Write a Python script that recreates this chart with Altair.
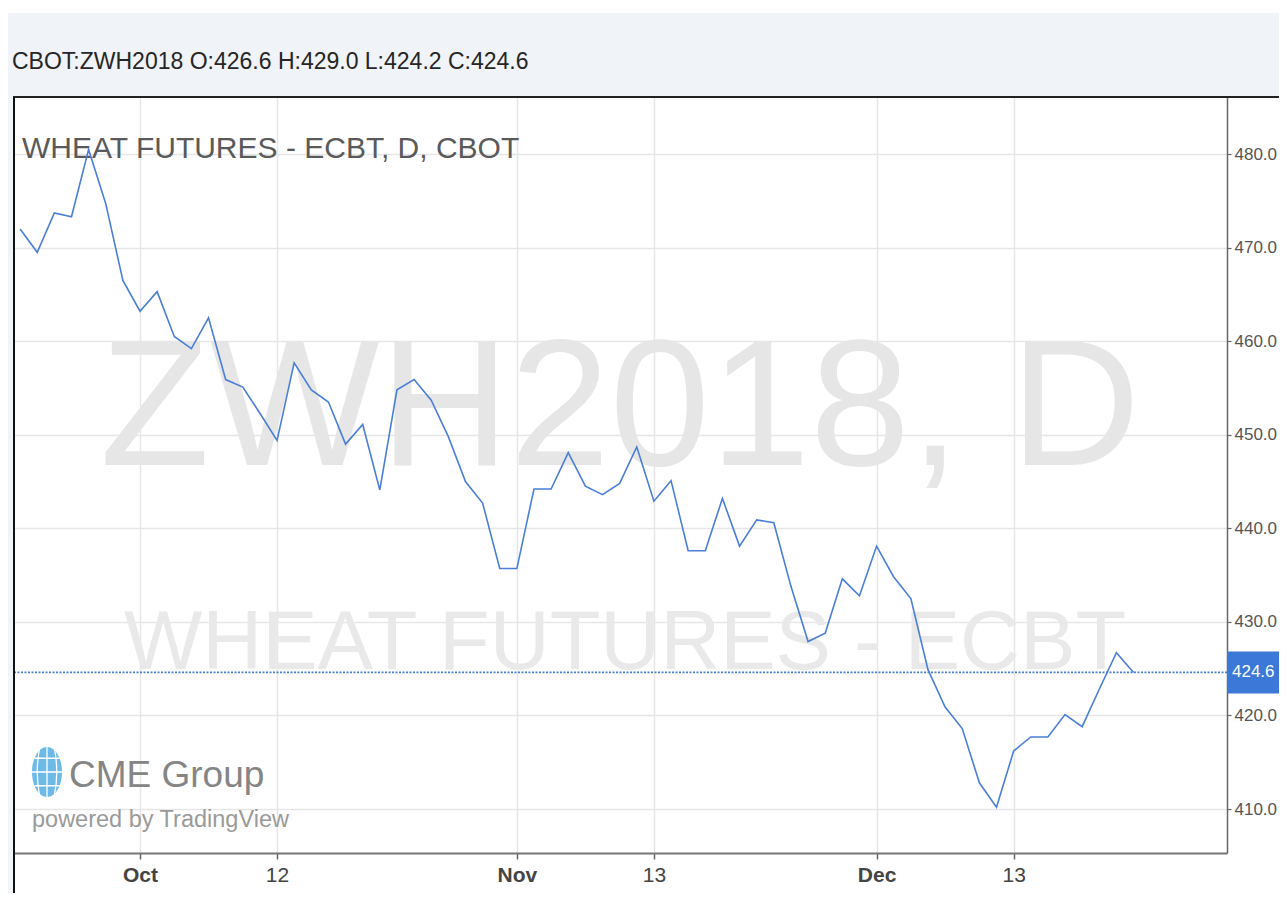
import altair as alt
import pandas as pd

# ---------------- data ----------------
dates = [
    "2017-09-21", "2017-09-22", "2017-09-25", "2017-09-26", "2017-09-27", "2017-09-28", "2017-09-29",
    "2017-10-02", "2017-10-03", "2017-10-04", "2017-10-05", "2017-10-06",
    "2017-10-09", "2017-10-10", "2017-10-11", "2017-10-12", "2017-10-13",
    "2017-10-16", "2017-10-17", "2017-10-18", "2017-10-19", "2017-10-20",
    "2017-10-23", "2017-10-24", "2017-10-25", "2017-10-26", "2017-10-27",
    "2017-10-30", "2017-10-31", "2017-11-01", "2017-11-02", "2017-11-03",
    "2017-11-06", "2017-11-07", "2017-11-08", "2017-11-09", "2017-11-10",
    "2017-11-13", "2017-11-14", "2017-11-15", "2017-11-16", "2017-11-17",
    "2017-11-20", "2017-11-21", "2017-11-22", "2017-11-24",
    "2017-11-27", "2017-11-28", "2017-11-29", "2017-11-30", "2017-12-01",
    "2017-12-04", "2017-12-05", "2017-12-06", "2017-12-07", "2017-12-08",
    "2017-12-11", "2017-12-12", "2017-12-13", "2017-12-14", "2017-12-15",
    "2017-12-18", "2017-12-19", "2017-12-20", "2017-12-21", "2017-12-22",
]
closes = [
    472.0, 469.5, 473.7, 473.3, 480.5, 474.7, 466.5,
    463.2, 465.3, 460.5, 459.2, 462.5,
    455.9, 455.1, 452.3, 449.4, 457.7,
    454.8, 453.5, 449.0, 451.1, 444.1,
    454.8, 455.9, 453.7, 449.8, 445.0,
    442.7, 435.7, 435.7, 444.2, 444.2,
    448.1, 444.5, 443.6, 444.8, 448.7,
    442.9, 445.1, 437.6, 437.6, 443.2,
    438.1, 440.9, 440.6, 433.8,
    427.9, 428.8, 434.6, 432.8, 438.1,
    434.8, 432.5, 424.9, 420.9, 418.6,
    412.8, 410.2, 416.2, 417.7, 417.7,
    420.1, 418.8, 422.8, 426.7, 424.6,
]
tick_dates = ["2017-10-02", "2017-10-12", "2017-11-01", "2017-11-13", "2017-12-01", "2017-12-13"]
tick_labels = ["Oct", "12", "Nov", "13", "Dec", "13"]
month_labels = ["Oct", "Nov", "Dec"]
y_ticks = [410, 420, 430, 440, 450, 460, 470, 480]
last_close = [424.6]

header_text = ["CBOT:ZWH2018 O:426.6 H:429.0 L:424.2 C:424.6"]
title_text = ["WHEAT FUTURES - ECBT, D, CBOT"]
watermark_symbol = ["ZWH2018, D"]
watermark_name = ["WHEAT FUTURES - ECBT"]
brand_text = ["CME Group"]
powered_text = ["powered by TradingView"]

# ---------------- layout / style ----------------
W, H = 1213, 756
PAD = {"left": 6, "top": 89, "right": 52, "bottom": 40}
FONT = "Liberation Sans, Arial, sans-serif"
BLUE = "#4a7fd9"

df = pd.DataFrame({"i": list(range(len(dates))), "date": dates, "close": closes})
tick_idx = [dates.index(d) for d in tick_dates]
label_expr = ""
for idx, lab in zip(tick_idx, tick_labels):
    label_expr += f"datum.value == {idx} ? '{lab}' : "
label_expr += "''"
bold_test = " || ".join(
    f"datum.value == {idx}" for idx, lab in zip(tick_idx, tick_labels) if lab in month_labels
)

x_enc = alt.X(
    "i:Q",
    scale=alt.Scale(domain=[-0.356, 70.456], nice=False, zero=False),
    axis=alt.Axis(
        values=tick_idx, labelExpr=label_expr, title=None,
        grid=True, gridColor="#e6e6e6", gridWidth=1.5,
        domainColor="#777777", domainWidth=2,
        tickColor="#666666", tickSize=6, tickWidth=1.5,
        labelFont=FONT, labelFontSize=21, labelColor="#444444", labelPadding=5,
        labelFontWeight=alt.condition(bold_test, alt.value("bold"), alt.value("normal")),
    ),
)
y_enc = alt.Y(
    "close:Q",
    scale=alt.Scale(domain=[405.3, 486.1], nice=False, zero=False),
    axis=alt.Axis(
        orient="right", values=y_ticks, format=".1f", title=None,
        grid=True, gridColor="#e6e6e6", gridWidth=1.5,
        domainColor="#666666", domainWidth=1.5,
        tickColor="#666666", tickSize=4, tickWidth=1.2,
        labelFont=FONT, labelFontSize=17, labelColor="#555555", labelPadding=3,
        labelOverlap=False,
    ),
)

one = pd.DataFrame({"k": [0]})

header_bg = alt.Chart(one).mark_rect(color="#f0f3f7").encode(
    x=alt.value(-6), x2=alt.value(W + PAD["right"]), y=alt.value(-84), y2=alt.value(0)
)
left_bg = alt.Chart(one).mark_rect(color="#f0f3f7").encode(
    x=alt.value(-6), x2=alt.value(0), y=alt.value(0), y2=alt.value(H + PAD["bottom"])
)

wm1 = alt.Chart(pd.DataFrame({"t": watermark_symbol})).mark_text(
    font=FONT, fontSize=180, color="#e6e6e6", align="center", baseline="alphabetic"
).encode(x=alt.value(606), y=alt.value(368), text="t:N")
wm2 = alt.Chart(pd.DataFrame({"t": watermark_name})).mark_text(
    font=FONT, fontSize=83, color="#e9e9e9", align="center", baseline="alphabetic"
).encode(x=alt.value(611), y=alt.value(572), text="t:N")

title = alt.Chart(pd.DataFrame({"t": title_text})).mark_text(
    font=FONT, fontSize=30, color="#5a5a5a", align="left", baseline="alphabetic"
).encode(x=alt.value(8), y=alt.value(61), text="t:N")
header = alt.Chart(pd.DataFrame({"t": header_text})).mark_text(
    font=FONT, fontSize=23, color="#262626", align="left", baseline="alphabetic"
).encode(x=alt.value(-2), y=alt.value(-28), text="t:N")

globe_path = "M -0.6,0 A 0.6,1 0 1,0 0.6,0 A 0.6,1 0 1,0 -0.6,0 Z"
grid_path = ("M 0,-1 L 0,1 M -0.6,0 L 0.6,0 M -0.5,-0.55 L 0.5,-0.55 M -0.5,0.55 L 0.5,0.55 "
             "M -0.3,-0.92 Q -0.48,0 -0.3,0.92 M 0.3,-0.92 Q 0.48,0 0.3,0.92")
globe = alt.Chart(one).mark_point(
    shape=globe_path, size=2500, filled=True, color="#5db3e6", opacity=0.9
).encode(x=alt.value(33), y=alt.value(675))
globe_grid = alt.Chart(one).mark_point(
    shape=grid_path, size=2500, filled=False, color="white", strokeWidth=1.3, opacity=1
).encode(x=alt.value(33), y=alt.value(675))
brand = alt.Chart(pd.DataFrame({"t": brand_text})).mark_text(
    font=FONT, fontSize=37, color="#858585", align="left", baseline="alphabetic"
).encode(x=alt.value(55), y=alt.value(690), text="t:N")
powered = alt.Chart(pd.DataFrame({"t": powered_text})).mark_text(
    font=FONT, fontSize=23.5, color="#9a9a9a", align="left", baseline="alphabetic"
).encode(x=alt.value(18), y=alt.value(730), text="t:N")

line = alt.Chart(df).mark_line(color=BLUE, strokeWidth=1.6).encode(x=x_enc, y=y_enc)

last_df = pd.DataFrame({"close": last_close})
last_rule = alt.Chart(last_df).mark_rule(
    color=BLUE, strokeWidth=1.8, strokeDash=[2, 1.5]
).encode(y=y_enc)
last_box = alt.Chart(last_df).mark_rect(color="#3c78d8", yOffset=-21, y2Offset=21).encode(
    y=y_enc, y2=alt.Y2("close:Q"), x=alt.value(W), x2=alt.value(W + PAD["right"])
)
last_text = alt.Chart(last_df).mark_text(
    font=FONT, fontSize=17, color="white", align="left", baseline="middle"
).encode(y=y_enc, x=alt.value(W + 5), text=alt.Text("close:Q", format=".1f"))

top_line = alt.Chart(one).mark_rule(color="#222222", strokeWidth=2).encode(
    x=alt.value(-1), x2=alt.value(W + PAD["right"]), y=alt.value(0)
)
left_line = alt.Chart(one).mark_rule(color="#111111", strokeWidth=2).encode(
    x=alt.value(0), y=alt.value(0), y2=alt.value(H + PAD["bottom"])
)

chart = alt.layer(
    header_bg, left_bg, wm1, wm2, title, globe, globe_grid, brand, powered,
    line, last_rule, last_box, last_text, header, top_line, left_line,
).properties(
    width=W, height=H, padding=PAD,
    autosize=alt.AutoSizeParams(type="none"),
    background="white",
).configure_view(strokeWidth=0)

chart.save("out.html", embed_options={"renderer": "svg", "actions": False})
